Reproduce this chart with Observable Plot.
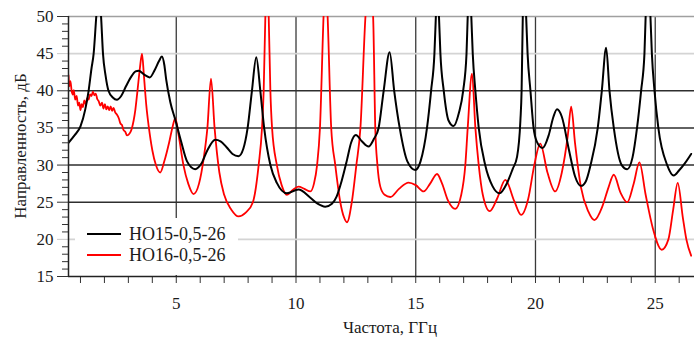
<!DOCTYPE html>
<html>
<head>
<meta charset="utf-8">
<script src="https://cdn.jsdelivr.net/npm/d3@7"></script>
<script src="https://cdn.jsdelivr.net/npm/@observablehq/plot@0.6"></script>
<style>
  html, body { margin: 0; padding: 0; background: #fff; }
  #chart svg { display: block; }
</style>
</head>
<body>
<div id="chart"></div>
<script>
// ---- Data ----
const seriesNames = ["HO15-0,5-26", "HO16-0,5-26"];
const seriesColors = ["#000000", "#ff0000"];
const xLabel = "Частота, ГГц";
const yLabel = "Направленность, дБ";
const xTickLabels = [5, 10, 15, 20, 25];
const yTickLabels = [15, 20, 25, 30, 35, 40, 45, 50];

// HO15-0,5-26 (black)
const freqHO15 = [0.5,0.75,1.0,1.2,1.34,1.46,1.55,1.66,1.76,1.86,1.94,2.05,2.17,2.35,2.52,2.7,2.9,3.1,3.3,3.43,3.65,3.89,4.1,4.28,4.4,4.5,4.58,4.75,4.96,5.2,5.45,5.79,6.05,6.3,6.63,6.85,7.1,7.35,7.6,7.8,7.98,8.16,8.34,8.51,8.67,8.93,9.2,9.62,10.1,10.6,10.9,11.22,11.5,11.7,11.9,12.13,12.3,12.5,12.75,13.03,13.25,13.45,13.66,13.91,14.1,14.33,14.65,14.98,15.2,15.47,15.64,15.78,15.84,15.9,15.97,16.03,16.17,16.37,16.58,16.8,16.98,17.12,17.17,17.25,17.32,17.38,17.49,17.63,17.9,18.2,18.5,18.8,19.05,19.23,19.37,19.42,19.47,19.54,19.61,19.67,19.79,19.92,20.05,20.3,20.55,20.75,20.9,21.1,21.4,21.65,21.9,22.1,22.3,22.6,22.77,22.95,23.09,23.27,23.6,23.83,24.05,24.24,24.41,24.55,24.6,24.7,24.8,24.86,24.97,25.13,25.5,25.77,26.0,26.25,26.5];
const dbHO15 = [33.0,34.0,35.2,37.5,40,43,45,50,54,50,45,42,40,39.1,38.8,39.3,40.6,41.8,42.6,42.7,42.2,41.8,42.8,44.0,44.6,43.5,41.5,38.5,36.1,33.2,30.5,29.45,30.2,32.0,33.4,33.2,32.4,31.5,31.2,32.2,35,40,44.5,40,35,30,27.6,26.2,26.7,25.6,24.8,24.4,24.8,25.8,27.8,30.7,33,34.05,33.2,32.5,33.5,35,40,45.2,40,35,30.5,29.35,30.5,35,40,45,50,55,50,45,40,36,35.25,37,40,45,50,55,50,45,40,35,30,27.2,26.2,27.5,29.5,31.1,36,40,50,55,50,45,40,35,33.2,32.3,34,36.5,37.5,36.5,32,28.5,27.2,27.8,30,35,40,45.8,40,35,30,29.45,31,35,40,45,50,55,50,45,40,35,30,28.6,29.3,30.3,31.5];

// HO16-0,5-26 (red)
const freqHO16 = [0.5,0.54,0.58,0.63,0.68,0.72,0.78,0.84,0.9,0.95,1.0,1.05,1.1,1.16,1.22,1.28,1.34,1.4,1.46,1.52,1.58,1.64,1.7,1.76,1.83,1.9,1.96,2.02,2.08,2.14,2.2,2.26,2.32,2.38,2.45,2.52,2.6,2.67,2.73,2.8,2.87,2.94,3.01,3.08,3.15,3.22,3.29,3.38,3.48,3.57,3.65,3.75,3.85,4.0,4.15,4.33,4.5,4.7,4.85,4.96,5.1,5.3,5.5,5.72,5.95,6.15,6.3,6.45,6.6,6.8,7.0,7.3,7.6,7.9,8.2,8.44,8.58,8.65,8.72,8.79,8.86,8.93,9.0,9.2,9.4,9.62,9.85,10.1,10.35,10.6,10.75,10.88,11.0,11.15,11.23,11.32,11.47,11.64,11.85,12.0,12.13,12.33,12.52,12.69,12.9,13.06,13.22,13.31,13.4,13.52,13.7,13.94,14.3,14.7,15.0,15.33,15.6,15.89,16.1,16.35,16.65,16.9,17.07,17.17,17.35,17.49,17.63,17.8,18.09,18.4,18.74,19.12,19.4,19.7,19.95,20.2,20.5,20.82,21.1,21.35,21.49,21.65,21.9,22.2,22.46,22.8,23.05,23.27,23.55,23.83,24.1,24.34,24.6,24.9,25.27,25.55,25.75,25.94,26.15,26.3,26.5];
const dbHO16 = [42.1,40.6,41.3,40.0,39.5,40.1,38.8,39.3,38.0,38.4,37.4,38.2,37.8,38.7,38.2,39.0,38.8,39.5,39.3,39.9,39.4,39.6,38.9,38.6,38.0,38.4,37.6,38.2,37.5,37.9,37.4,37.9,37.3,37.7,37.1,36.8,36.3,35.6,35.4,34.7,34.5,34.0,34.1,34.4,35.0,36.0,37.4,40,43,45.0,42,38,35.2,32,30,29.0,30.5,33,35.2,36.3,34,30,27.5,26.1,27.5,31,35,41.65,35,29,26,24,23.1,23.6,25,30,35,40,50,56,50,40,35,30,27.3,26.0,26.6,27.1,26.8,26.45,27.5,30,35,50,56,50,35,30,25,23,22.3,25,30,35,50,56,50,35,30,27.1,26.0,25.7,26.8,27.65,27.3,26.45,27.5,28.8,27.5,25.2,24.1,26,30,35,42.3,35,30,26,23.8,25.5,28.0,25.1,23.3,25.5,30,32.9,29,26.45,29,34,37.85,33,27,23.8,22.6,24.5,27,28.7,26.3,25.0,27.5,30.35,26,21.5,18.6,20,24,27.6,23,20,17.8];

// ---- Build tables ----
const rows = [];
freqHO15.forEach((f, i) => rows.push({series: seriesNames[0], f, db: dbHO15[i]}));
freqHO16.forEach((f, i) => rows.push({series: seriesNames[1], f, db: dbHO16[i]}));

const font = "'Liberation Serif', 'Times New Roman', serif";
const textColor = "#1b1b1b";

function dimsOf(args) {
  return args.find(a => a && typeof a === "object" && "marginLeft" in a && "width" in a);
}

// legend background (drawn under the curves, over the grid)
function legendBox(...args) {
  const d = dimsOf(args);
  const g = d3.create("svg:g");
  g.append("rect")
    .attr("x", d.marginLeft + 7).attr("y", 218)
    .attr("width", 238 - d.marginLeft - 7).attr("height", d.height - d.marginBottom - 218 - 1)
    .attr("fill", "#fff");
  return g.node();
}

function legendAndLabels(...args) {
  const d = dimsOf(args);
  const g = d3.create("svg:g").attr("font-family", font).attr("fill", textColor);
  seriesNames.forEach((name, i) => {
    const y = 234 + i * 21;
    g.append("line").attr("x1", 87).attr("x2", 121).attr("y1", y).attr("y2", y)
      .attr("stroke", seriesColors[i]).attr("stroke-width", 2.2);
    g.append("text").attr("x", 129).attr("y", y).attr("dy", "0.35em")
      .attr("text-anchor", "start").attr("font-size", 18).text(name);
  });
  g.append("text").attr("x", 390).attr("y", 333).attr("text-anchor", "middle")
    .attr("font-size", 17).text(xLabel);
  g.append("text").attr("transform", `translate(26,${(d.marginTop + d.height - d.marginBottom) / 2}) rotate(-90)`)
    .attr("text-anchor", "middle").attr("font-size", 17).text(yLabel);
  return g.node();
}

const minorX = d3.range(1, 27).filter(v => v % 5 !== 0);
const minorY = d3.range(15, 51).filter(v => v % 5 !== 0);

const chart = Plot.plot({
  width: 694,
  height: 338,
  marginLeft: 68,
  marginRight: 0,
  marginTop: 16,
  marginBottom: 62,
  style: {fontFamily: font, fontSize: "17px", color: textColor, background: "#fff"},
  x: {domain: [0.5, 26.64], label: null},
  y: {domain: [15, 50], label: null},
  marks: [
    Plot.ruleX(xTickLabels, {stroke: "#3a3a3a", strokeWidth: 1.3}),
    Plot.ruleY([25, 30, 35, 40], {stroke: "#2e2e2e", strokeWidth: 1.4}),
    Plot.ruleY([20, 45], {stroke: "#d4d4d4", strokeWidth: 1.6}),
    Plot.ruleY([50], {stroke: "#a0a0a0", strokeWidth: 1.4}),
    legendBox,
    Plot.line(rows.filter(r => r.series === seriesNames[1]), {x: "f", y: "db", stroke: seriesColors[1], strokeWidth: 1.8, curve: "monotone-x", clip: true}),
    Plot.line(rows.filter(r => r.series === seriesNames[0]), {x: "f", y: "db", stroke: seriesColors[0], strokeWidth: 2, curve: "monotone-x", clip: true}),
    // axes
    Plot.axisY([15, 25, 30, 35, 40, 50], {tickSize: 11, tickPadding: 4, stroke: "#333", fill: textColor, fontSize: 17, label: null}),
    Plot.axisY([20, 45], {tickSize: 11, tickPadding: 4, stroke: "#c8c8c8", fill: textColor, fontSize: 17, label: null}),
    Plot.axisY(minorY, {tickSize: 6, text: null, stroke: "#333", label: null}),
    Plot.axisX(xTickLabels, {tickSize: 7, tickPadding: 13, stroke: "#333", fill: textColor, fontSize: 17, label: null}),
    Plot.axisX(minorX, {tickSize: 7, text: null, stroke: "#333", label: null}),
    Plot.ruleX([0.5], {stroke: "#222", strokeWidth: 1.5}),
    Plot.ruleY([15], {stroke: "#222", strokeWidth: 1.5}),
    legendAndLabels
  ]
});
document.getElementById("chart").appendChild(chart);
</script>
</body>
</html>
